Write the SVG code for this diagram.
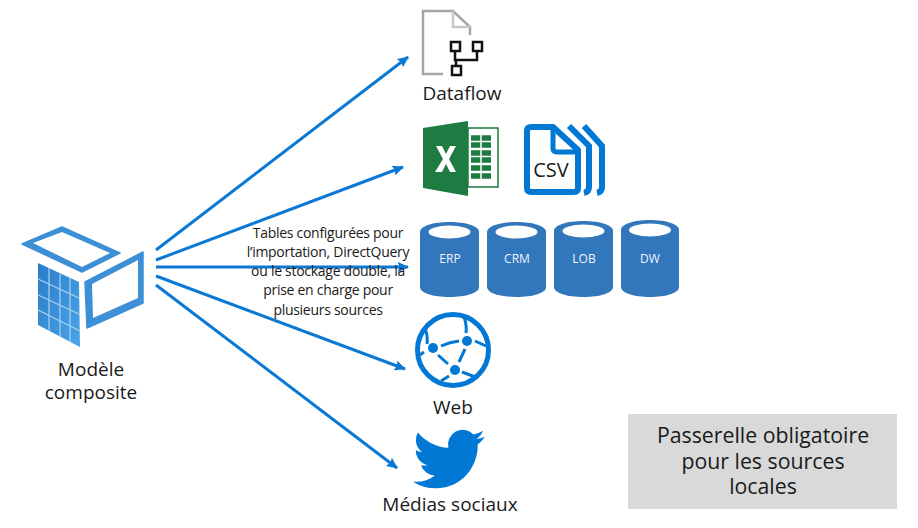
<svg xmlns="http://www.w3.org/2000/svg" width="918" height="528" viewBox="0 0 918 528">
<style>
text{font-family:"Open Sans","Noto Sans","Liberation Sans",sans-serif;fill:#1a1a1a;text-anchor:middle}
.l{font-size:19px}
.b{font-size:21.300px}
.s{font-size:14px;letter-spacing:-.28px}
.c{font-size:12px;fill:#eef4fb}
.a{stroke:#0b78d4;stroke-width:3;fill:none;marker-end:url(#h)}
.cyl{fill:#3277bc}
.g{stroke:#0078d4;fill:none}
</style>
<defs>
<marker id="h" markerWidth="3.800" markerHeight="3.400" refX="5" refY="2.500" orient="auto" markerUnits="strokeWidth" viewBox="0 0 5.500 5"><path d="M0 0L5.500 2.500L0 5L.8 2.500Z" fill="#0b78d4"/></marker>
<linearGradient id="gr" x1="0" y1="0" x2="1" y2="1"><stop offset="0" stop-color="#2a7cc9"/><stop offset="1" stop-color="#4ca5e8"/></linearGradient>
</defs>
<g id="connectors">
<path class="a" d="M156 250L408 57"/>
<path class="a" d="M156 260L403 167"/>
<path class="a" d="M156 267H408"/>
<path class="a" d="M156 276L405 369"/>
<path class="a" d="M156 285L397 468"/>
</g>
<g id="composite">
<path d="M22 244L62 227L120 253L82 272Z" fill="#3d8fd6" stroke="#3d8fd6" stroke-width="1.500" stroke-linejoin="round"/>
<path d="M33 243L62 232L110 253L82 267Z" fill="#fff"/>
<path d="M38 263L79 282L80 347L38 325Z" fill="url(#gr)"/>
<path d="M49 268L49 331M60 274L60 337M70 278L70 342M38 279L79 298M38 295L79 314M38 310L80 331" stroke="#a9d3f2" stroke-width="1.200" fill="none"/>
<path d="M85 282L143 252V303L87 328Z" fill="#3d8fd6" stroke="#3d8fd6" stroke-width="1.500" stroke-linejoin="round"/>
<path d="M92 284L138 260V298L93 318Z" fill="#fff"/>
<text class="l" x="91" y="376">Modèle</text>
<text class="l" x="91" y="399">composite</text>
</g>
<g id="dataflow">
<path d="M443 74H423V11H453L470 27V35" fill="none" stroke="#a6a6a6" stroke-width="2.500"/>
<path d="M453 11V27H470" fill="none" stroke="#c8c8c8" stroke-width="2.500"/>
<path d="M455 51V60H477V51M456 60V66" fill="none" stroke="#111" stroke-width="2.500"/>
<rect x="451" y="42" width="9" height="9" fill="none" stroke="#111" stroke-width="2.500"/>
<rect x="473" y="42" width="9" height="9" fill="none" stroke="#111" stroke-width="2.500"/>
<rect x="452" y="66" width="9" height="9" fill="none" stroke="#111" stroke-width="2.500"/>
<text class="l" x="462" y="100">Dataflow</text>
</g>
<g id="excel">
<path d="M468 128H498V187H468Z" fill="#fff" stroke="#1e7b42" stroke-width="1.500"/>
<path d="M471 138H491M471 145H491M471 153H491M471 160H491M471 168H491M471 176H491" stroke="#1e7b42" stroke-width="5.500" fill="none"/>
<path d="M481 134V180" stroke="#fff" stroke-width="1.500"/>
<path d="M423 128L468 121V196L423 188Z" fill="#1e7b42"/>
<path d="M436 146H442L446 154L450 146H456L449 159L456 172H450L446 164L442 172H435L443 159Z" fill="#fff"/>
</g>
<g id="csv">
<path d="M569 126L589 146V187Q589 192 584 193" fill="none" stroke="#0078d4" stroke-width="6"/>
<path d="M584 126L602 146V187Q602 192 597 193" fill="none" stroke="#0078d4" stroke-width="6"/>
<path d="M553 127H531Q527 127 527 131V188Q527 192 531 192H574Q578 192 578 188V150Z" fill="#fff" stroke="#0078d4" stroke-width="6" stroke-linejoin="round"/>
<path d="M553 127V148Q553 152 557 152H578" fill="none" stroke="#0078d4" stroke-width="5"/>
<text x="551" y="177" style="font-size:20px">CSV</text>
</g>
<g id="erp">
<path class="cyl" d="M420 232C420 226 433 222 449.500 222S479 226 479 232V287C479 293 466 297 449.500 297S420 293 420 287Z"/>
<ellipse cx="449.500" cy="232" rx="21" ry="6.500" fill="#fff"/>
<text class="c" x="450" y="263">ERP</text>
</g>
<g id="crm">
<path class="cyl" d="M487 232C487 226 500 222 516.500 222S546 226 546 232V287C546 293 533 297 516.500 297S487 293 487 287Z"/>
<ellipse cx="516.500" cy="232" rx="21" ry="6.500" fill="#fff"/>
<text class="c" x="517" y="263">CRM</text>
</g>
<g id="lob">
<path class="cyl" d="M554 231C554 225 567 221 583.500 221S613 225 613 231V287C613 293 600 297 583.500 297S554 293 554 287Z"/>
<ellipse cx="583.500" cy="231" rx="21" ry="6.500" fill="#fff"/>
<text class="c" x="584" y="263">LOB</text>
</g>
<g id="dw">
<path class="cyl" d="M621 230C621 224 634 220 650 220S679 224 679 230V287C679 293 666 297 650 297S621 293 621 287Z"/>
<ellipse cx="650" cy="230" rx="21" ry="6.500" fill="#fff"/>
<text class="c" x="650" y="263">DW</text>
</g>
<text id="note" class="s"><tspan x="328" y="238">Tables configurées pour</tspan><tspan x="328" y="257">l’importation, DirectQuery</tspan><tspan x="328" y="276">ou le stockage double, la</tspan><tspan x="328" y="295">prise en charge pour</tspan><tspan x="328" y="315">plusieurs sources</tspan></text>
<g id="web">
<circle class="g" cx="453" cy="350" r="35.500" stroke-width="5"/>
<circle cx="433" cy="348" r="5" fill="#0078d4"/>
<circle cx="467" cy="341" r="5" fill="#0078d4"/>
<circle cx="455" cy="370" r="5" fill="#0078d4"/>
<path class="g" stroke-width="3" d="M441 346Q450 342 459 341M438 355L448 364M465 349L459 362M427 344Q428 336 425 328M466 333Q467 325 464 317M475 341L486 346M424 352L417 357M462 372L478 378M449 376L441 381"/>
<text class="l" x="453" y="414">Web</text>
</g>
<g id="social">
<path transform="translate(413 423) scale(3)" fill="#0078d4" d="M23.953 4.57a10 10 0 01-2.825.775 4.958 4.958 0 002.163-2.723c-.951.555-2.005.959-3.127 1.184a4.92 4.92 0 00-8.384 4.482C7.69 8.095 4.067 6.13 1.64 3.162a4.822 4.822 0 00-.666 2.475c0 1.71.87 3.213 2.188 4.096a4.904 4.904 0 01-2.228-.616v.06a4.923 4.923 0 003.946 4.827 4.996 4.996 0 01-2.212.085 4.936 4.936 0 004.604 3.417 9.867 9.867 0 01-6.102 2.105c-.39 0-.779-.023-1.17-.067a13.995 13.995 0 007.557 2.209c9.053 0 13.998-7.496 13.998-13.985 0-.21 0-.42-.015-.63A9.935 9.935 0 0024 4.59z"/>
<text class="l" x="450" y="511">Médias sociaux</text>
</g>
<g id="gateway">
<rect x="628" y="414" width="269" height="95" fill="#d9d9d9"/>
<text class="b"><tspan x="763" y="443">Passerelle obligatoire</tspan><tspan x="763" y="469">pour les sources</tspan><tspan x="763" y="494">locales</tspan></text>
</g>
</svg>
